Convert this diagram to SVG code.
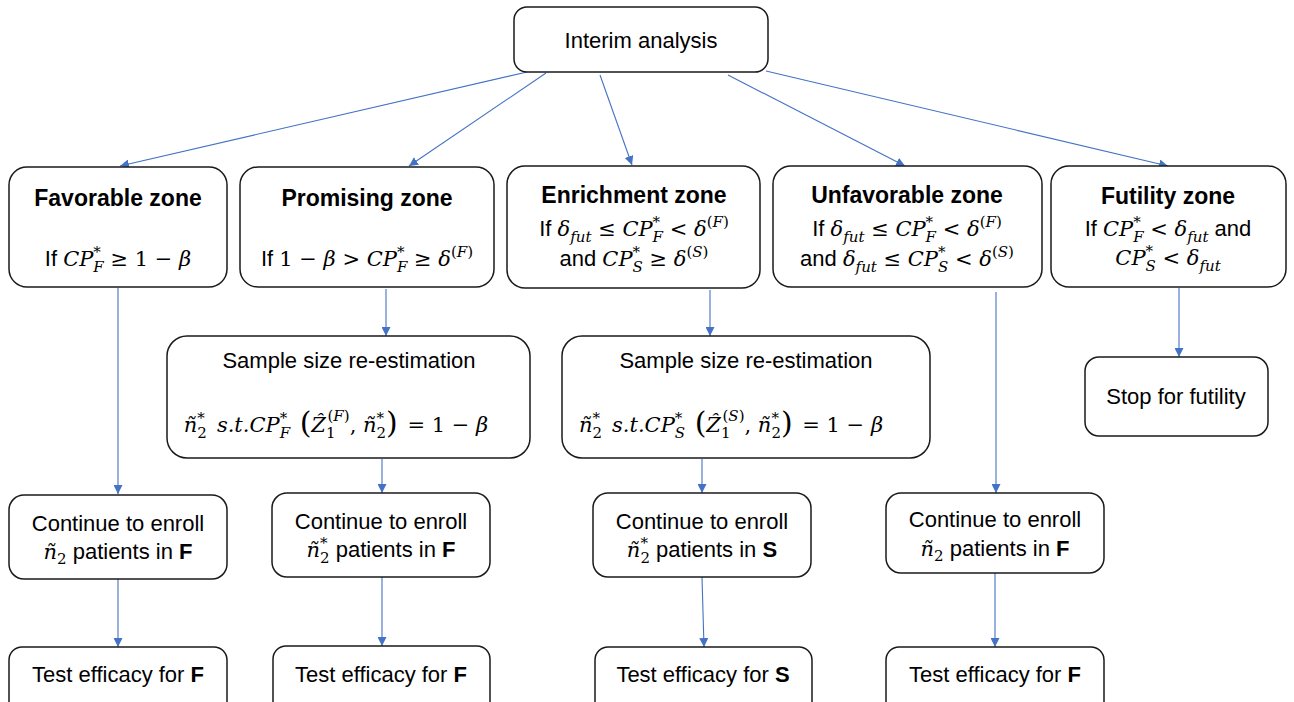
<svg xmlns="http://www.w3.org/2000/svg" width="1294" height="702" viewBox="0 0 1294 702">
<style>
.bx{fill:#fff;stroke:#1a1a1a;stroke-width:1.5}
.t{font-family:"Liberation Sans",Arial,sans-serif;font-size:22px;fill:#000;text-anchor:middle}
.b{font-weight:bold;font-size:23px}
.bf{font-weight:bold}
.mi{font-family:"DejaVu Serif","Liberation Serif",serif;font-style:italic;font-size:21px}
.mu{font-family:"DejaVu Serif","Liberation Serif",serif;font-style:normal;font-size:21px}
.s{font-size:15px}
.bp{font-size:30px}
.c line{stroke:#4472C4;stroke-width:1.1;fill:none;marker-end:url(#ah)}
</style>
<defs>
<marker id="ah" viewBox="0 0 10 10" refX="10" refY="5" markerUnits="userSpaceOnUse" markerWidth="9" markerHeight="9" orient="auto">
<path d="M0,0 L10,5 L0,10 z" fill="#4472C4"/>
</marker>
</defs>
<rect width="1294" height="702" fill="#fff"/>

<g id="connectors" class="c">
<line x1="527" y1="72" x2="120" y2="166"/>
<line x1="546" y1="73" x2="409" y2="166"/>
<line x1="600" y1="75" x2="632" y2="165"/>
<line x1="728" y1="75" x2="905" y2="166"/>
<line x1="766" y1="71" x2="1168" y2="166"/>
<line x1="118" y1="288" x2="118" y2="494"/>
<line x1="118" y1="579" x2="118" y2="647"/>
<line x1="386" y1="289" x2="386" y2="336"/>
<line x1="382" y1="459" x2="382" y2="493"/>
<line x1="382" y1="577" x2="382" y2="646"/>
<line x1="710" y1="290" x2="710" y2="336"/>
<line x1="702" y1="459" x2="702" y2="493"/>
<line x1="702" y1="577" x2="704" y2="647"/>
<line x1="996" y1="292" x2="996" y2="493"/>
<line x1="995" y1="573" x2="995" y2="647"/>
<line x1="1179" y1="288" x2="1179" y2="357"/>
</g>

<g id="interim">
<rect class="bx" x="514" y="7" width="254" height="65" rx="13"/>
<text class="t" x="641" y="48">Interim analysis</text>
</g>

<g id="favorable">
<rect class="bx" x="9" y="167" width="218" height="120" rx="18"/>
<text class="t b" x="118" y="206">Favorable zone</text>
<text class="t" x="118" y="266">If <tspan class="mi">CP</tspan><tspan class="mu s" dy="-9">*</tspan><tspan class="mi s" dx="-7.5" dy="15">F</tspan><tspan class="mu" dy="-6"> ≥ 1 − </tspan><tspan class="mi">β</tspan></text>
</g>

<g id="promising">
<rect class="bx" x="240" y="167" width="254" height="120" rx="18"/>
<text class="t b" x="367" y="206">Promising zone</text>
<text class="t" x="367" y="266">If <tspan class="mu">1 − </tspan><tspan class="mi">β</tspan><tspan class="mu"> &gt; </tspan><tspan class="mi">CP</tspan><tspan class="mu s" dy="-9">*</tspan><tspan class="mi s" dx="-7.5" dy="15">F</tspan><tspan class="mu" dy="-6"> ≥ </tspan><tspan class="mi">δ</tspan><tspan class="mu s" dy="-9">(</tspan><tspan class="mi s">F</tspan><tspan class="mu s">)</tspan></text>
</g>

<g id="enrichment">
<rect class="bx" x="507" y="166" width="253" height="122" rx="18"/>
<text class="t b" x="634" y="203">Enrichment zone</text>
<text class="t" x="634" y="236">If <tspan class="mi">δ</tspan><tspan class="mi s" dy="6">fut</tspan><tspan class="mu" dy="-6"> ≤ </tspan><tspan class="mi">CP</tspan><tspan class="mu s" dy="-9">*</tspan><tspan class="mi s" dx="-7.5" dy="15">F</tspan><tspan class="mu" dy="-6"> &lt; </tspan><tspan class="mi">δ</tspan><tspan class="mu s" dy="-9">(</tspan><tspan class="mi s">F</tspan><tspan class="mu s">)</tspan></text>
<text class="t" x="634" y="266">and <tspan class="mi">CP</tspan><tspan class="mu s" dy="-9">*</tspan><tspan class="mi s" dx="-7.5" dy="15">S</tspan><tspan class="mu" dy="-6"> ≥ </tspan><tspan class="mi">δ</tspan><tspan class="mu s" dy="-9">(</tspan><tspan class="mi s">S</tspan><tspan class="mu s">)</tspan></text>
</g>

<g id="unfavorable">
<rect class="bx" x="773" y="166" width="269" height="121" rx="18"/>
<text class="t b" x="907" y="203">Unfavorable zone</text>
<text class="t" x="907" y="236">If <tspan class="mi">δ</tspan><tspan class="mi s" dy="6">fut</tspan><tspan class="mu" dy="-6"> ≤ </tspan><tspan class="mi">CP</tspan><tspan class="mu s" dy="-9">*</tspan><tspan class="mi s" dx="-7.5" dy="15">F</tspan><tspan class="mu" dy="-6"> &lt; </tspan><tspan class="mi">δ</tspan><tspan class="mu s" dy="-9">(</tspan><tspan class="mi s">F</tspan><tspan class="mu s">)</tspan></text>
<text class="t" x="907" y="266">and <tspan class="mi">δ</tspan><tspan class="mi s" dy="6">fut</tspan><tspan class="mu" dy="-6"> ≤ </tspan><tspan class="mi">CP</tspan><tspan class="mu s" dy="-9">*</tspan><tspan class="mi s" dx="-7.5" dy="15">S</tspan><tspan class="mu" dy="-6"> &lt; </tspan><tspan class="mi">δ</tspan><tspan class="mu s" dy="-9">(</tspan><tspan class="mi s">S</tspan><tspan class="mu s">)</tspan></text>
</g>

<g id="futility">
<rect class="bx" x="1051" y="166" width="235" height="121" rx="18"/>
<text class="t b" x="1168" y="204">Futility zone</text>
<text class="t" x="1168" y="236">If <tspan class="mi">CP</tspan><tspan class="mu s" dy="-9">*</tspan><tspan class="mi s" dx="-7.5" dy="15">F</tspan><tspan class="mu" dy="-6"> &lt; </tspan><tspan class="mi">δ</tspan><tspan class="mi s" dy="6">fut</tspan><tspan dy="-6"> and</tspan></text>
<text class="t" x="1168" y="265"><tspan class="mi">CP</tspan><tspan class="mu s" dy="-9">*</tspan><tspan class="mi s" dx="-7.5" dy="15">S</tspan><tspan class="mu" dy="-6"> &lt; </tspan><tspan class="mi">δ</tspan><tspan class="mi s" dy="6">fut</tspan></text>
</g>

<g id="ssr-f">
<rect class="bx" x="167" y="336" width="363" height="122" rx="20"/>
<text class="t" x="349" y="368">Sample size re-estimation</text>
<text class="t" x="336" y="432"><tspan class="mi">ñ</tspan><tspan class="mu s" dy="-9">*</tspan><tspan class="mu s" dx="-7.5" dy="15">2</tspan><tspan class="mi" dx="10" dy="-6">s.t.</tspan><tspan class="mi">CP</tspan><tspan class="mu s" dy="-9">*</tspan><tspan class="mi s" dx="-7.5" dy="15">F</tspan><tspan class="mu bp" dy="-5"> (</tspan><tspan class="mi" dy="-1">Ẑ</tspan><tspan class="mu s" dy="6">1</tspan><tspan class="mu s" dx="-8" dy="-17">(</tspan><tspan class="mi s">F</tspan><tspan class="mu s">)</tspan><tspan class="mu" dy="11">, </tspan><tspan class="mi">ñ</tspan><tspan class="mu s" dy="-9">*</tspan><tspan class="mu s" dx="-7.5" dy="15">2</tspan><tspan class="mu bp" dy="-5">)</tspan><tspan class="mu" dx="3" dy="-1"> = 1 − </tspan><tspan class="mi">β</tspan></text>
</g>

<g id="ssr-s">
<rect class="bx" x="562" y="336" width="368" height="122" rx="20"/>
<text class="t" x="746" y="368">Sample size re-estimation</text>
<text class="t" x="731" y="432"><tspan class="mi">ñ</tspan><tspan class="mu s" dy="-9">*</tspan><tspan class="mu s" dx="-7.5" dy="15">2</tspan><tspan class="mi" dx="10" dy="-6">s.t.</tspan><tspan class="mi">CP</tspan><tspan class="mu s" dy="-9">*</tspan><tspan class="mi s" dx="-7.5" dy="15">S</tspan><tspan class="mu bp" dy="-5"> (</tspan><tspan class="mi" dy="-1">Ẑ</tspan><tspan class="mu s" dy="6">1</tspan><tspan class="mu s" dx="-8" dy="-17">(</tspan><tspan class="mi s">S</tspan><tspan class="mu s">)</tspan><tspan class="mu" dy="11">, </tspan><tspan class="mi">ñ</tspan><tspan class="mu s" dy="-9">*</tspan><tspan class="mu s" dx="-7.5" dy="15">2</tspan><tspan class="mu bp" dy="-5">)</tspan><tspan class="mu" dx="3" dy="-1"> = 1 − </tspan><tspan class="mi">β</tspan></text>
</g>

<g id="stop">
<rect class="bx" x="1085" y="357" width="183" height="79" rx="14"/>
<text class="t" x="1176" y="404">Stop for futility</text>
</g>

<g id="enroll-1">
<rect class="bx" x="9" y="495" width="218" height="84" rx="15"/>
<text class="t" x="118" y="531">Continue to enroll</text>
<text class="t" x="118" y="559"><tspan class="mi">ñ</tspan><tspan class="mu s" dy="5">2</tspan><tspan dy="-5"> patients in </tspan><tspan class="bf">F</tspan></text>
</g>

<g id="enroll-2">
<rect class="bx" x="272" y="493" width="218" height="84" rx="15"/>
<text class="t" x="381" y="529">Continue to enroll</text>
<text class="t" x="381" y="557"><tspan class="mi">ñ</tspan><tspan class="mu s" dy="-9">*</tspan><tspan class="mu s" dx="-7.5" dy="15">2</tspan><tspan dy="-6"> patients in </tspan><tspan class="bf">F</tspan></text>
</g>

<g id="enroll-3">
<rect class="bx" x="593" y="493" width="218" height="84" rx="15"/>
<text class="t" x="702" y="529">Continue to enroll</text>
<text class="t" x="702" y="557"><tspan class="mi">ñ</tspan><tspan class="mu s" dy="-9">*</tspan><tspan class="mu s" dx="-7.5" dy="15">2</tspan><tspan dy="-6"> patients in </tspan><tspan class="bf">S</tspan></text>
</g>

<g id="enroll-4">
<rect class="bx" x="886" y="493" width="218" height="80" rx="15"/>
<text class="t" x="995" y="527">Continue to enroll</text>
<text class="t" x="995" y="556"><tspan class="mi">ñ</tspan><tspan class="mu s" dy="5">2</tspan><tspan dy="-5"> patients in </tspan><tspan class="bf">F</tspan></text>
</g>

<g id="test-1">
<rect class="bx" x="9" y="647" width="218" height="75" rx="13"/>
<text class="t" x="118" y="682">Test efficacy for <tspan class="bf">F</tspan></text>
</g>
<g id="test-2">
<rect class="bx" x="273" y="646" width="217" height="75" rx="13"/>
<text class="t" x="381" y="682">Test efficacy for <tspan class="bf">F</tspan></text>
</g>
<g id="test-3">
<rect class="bx" x="595" y="647" width="217" height="75" rx="13"/>
<text class="t" x="703" y="682">Test efficacy for <tspan class="bf">S</tspan></text>
</g>
<g id="test-4">
<rect class="bx" x="886" y="647" width="218" height="75" rx="13"/>
<text class="t" x="995" y="682">Test efficacy for <tspan class="bf">F</tspan></text>
</g>
</svg>
